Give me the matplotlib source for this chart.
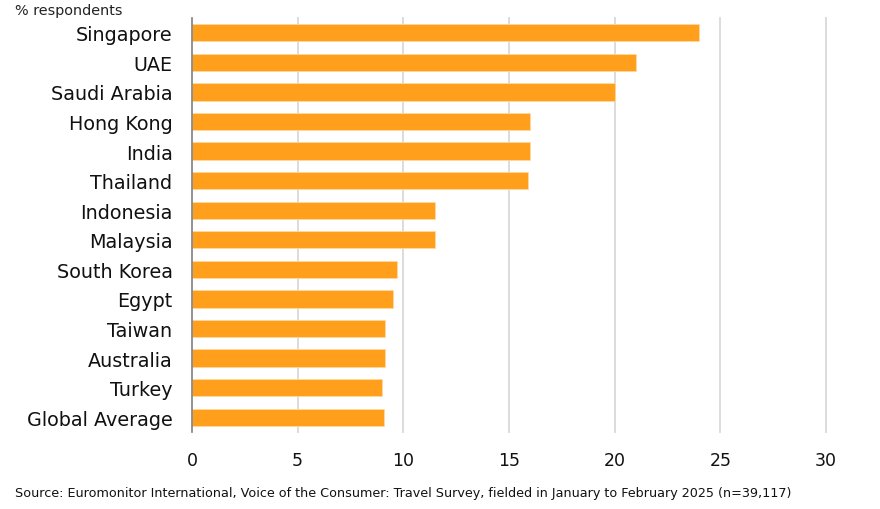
import matplotlib.pyplot as plt

# data
countries = ['Singapore', 'UAE', 'Saudi Arabia', 'Hong Kong', 'India', 'Thailand',
             'Indonesia', 'Malaysia', 'South Korea', 'Egypt', 'Taiwan', 'Australia',
             'Turkey', 'Global Average']
values = [24.0, 21.0, 20.0, 16.0, 16.0, 15.9, 11.5, 11.5, 9.7, 9.5, 9.15, 9.15, 9.0, 9.1]
x_ticks = [0, 5, 10, 15, 20, 25, 30]

fig = plt.figure(figsize=(8.8, 5.1), dpi=100)
ax = fig.add_axes([192/880, 1 - 433/510, (826 - 192)/880, (433 - 19)/510])

ypos = list(range(len(countries)))
ax.barh(ypos, values, height=0.58, color='#FF9F1C', edgecolor='#FFD9A0',
        linewidth=0.6, zorder=3)

ax.set_xlim(0, 30)
ax.set_ylim(len(countries) - 0.5, -0.5)
ax.set_xticks(x_ticks)
ax.set_xticklabels([str(t) for t in x_ticks], fontsize=12.5, color='#111111')
ax.set_yticks(ypos)
ax.set_yticklabels(countries, fontsize=13.8, color='#111111')
ax.tick_params(axis='x', length=0, pad=14)
ax.tick_params(axis='y', length=0, pad=14)

for t in x_ticks[1:]:
    ax.axvline(t, color='#D9D9D9', linewidth=1.3, zorder=1, clip_on=False)

for s in ['top', 'right', 'bottom']:
    ax.spines[s].set_visible(False)
ax.spines['left'].set_color('#7F7F7F')
ax.spines['left'].set_linewidth(1.2)
ax.spines['left'].set_zorder(4)

fig.text(15/880, 1 - 11/510, '% respondents', fontsize=10.4, color='#222222',
         ha='left', va='center')
fig.text(15/880, 1 - 494/510,
         'Source: Euromonitor International, Voice of the Consumer: Travel Survey, '
         'fielded in January to February 2025 (n=39,117)',
         fontsize=9.2, color='#111111', ha='left', va='center')

fig.savefig('out.png', dpi=100)
